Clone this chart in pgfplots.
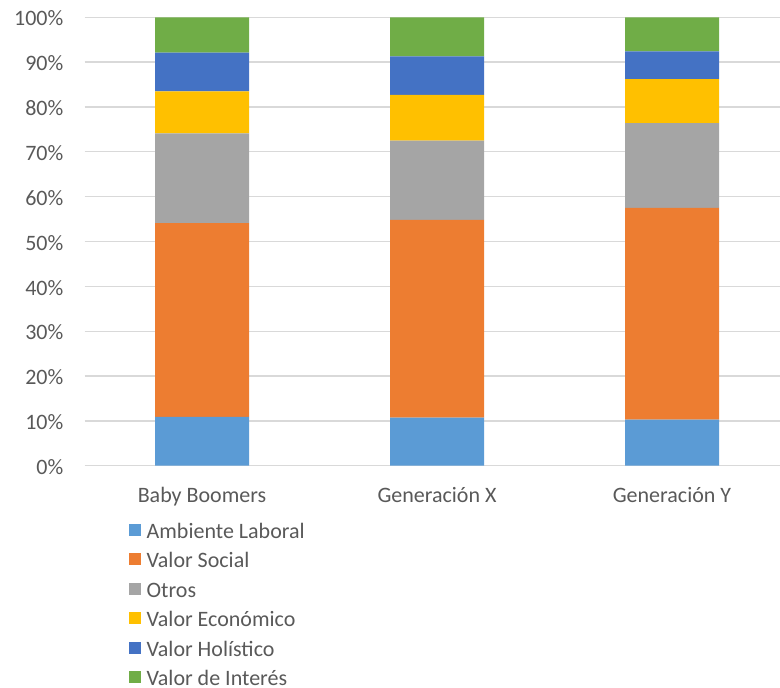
\documentclass[border=0pt]{standalone}
\usepackage{fontspec}
\setmainfont{Carlito}
\usepackage{pgfplots}
\pgfplotsset{compat=1.18}

\definecolor{cAmb}{HTML}{5B9BD5}
\definecolor{cSoc}{HTML}{ED7D31}
\definecolor{cOtr}{HTML}{A5A5A5}
\definecolor{cEco}{HTML}{FFC000}
\definecolor{cHol}{HTML}{4472C4}
\definecolor{cInt}{HTML}{70AD47}
\definecolor{txt}{HTML}{595959}
\definecolor{grd}{HTML}{D9D9D9}

\pgfplotsset{
  sqlegend/.style={legend image code/.code={\fill[##1] (0pt,1.25pt) rectangle (11.7pt,12.95pt);}}
}

\begin{document}
\begin{tikzpicture}
\path[use as bounding box] (0,0) rectangle (780pt,688pt);
\begin{axis}[
  at={(84.5pt,222.3pt)}, anchor=south west,
  scale only axis, width=705pt, height=448.4pt,
  ybar stacked, bar width=0.4,
  xmin=-0.5, xmax=2.5, ymin=0, ymax=100,
  xtick={0,1,2},
  xticklabels={Baby Boomers, Generación X, Generación Y},
  ytick={0,10,...,100},
  yticklabels={0\%,10\%,20\%,30\%,40\%,50\%,60\%,70\%,80\%,90\%,100\%},
  major tick length=0pt,
  axis line style={draw=none},
  ymajorgrids, grid style={grd, line width=1.3pt},
  tick label style={font=\fontsize{22}{26}\selectfont, text=txt, inner sep=0pt},
  xticklabel style={anchor=base, yshift=-37pt},
  yticklabel style={anchor=base east, xshift=-21pt, yshift=-8.7pt},
  legend style={at={(axis description cs:0.0638,-0.1258)}, anchor=north west,
    draw=none, fill=none, inner sep=0pt, outer sep=0pt, row sep=0pt,
    font=\fontsize{22}{26}\selectfont, text=txt,
    nodes={inner sep=0pt, text height=16pt, text depth=13.5pt},
    /tikz/every odd column/.append style={column sep=5.5pt},
    cells={anchor=west}},
]
\addplot[fill=cAmb, draw=none, sqlegend] coordinates {(0,10.9) (1,10.7) (2,10.3)};
\addplot[fill=cSoc, draw=none, sqlegend] coordinates {(0,43.2) (1,44.1) (2,47.2)};
\addplot[fill=cOtr, draw=none, sqlegend] coordinates {(0,20.0) (1,17.7) (2,18.9)};
\addplot[fill=cEco, draw=none, sqlegend] coordinates {(0,9.4) (1,10.2) (2,9.8)};
\addplot[fill=cHol, draw=none, sqlegend] coordinates {(0,8.6) (1,8.6) (2,6.2)};
\addplot[fill=cInt, draw=none, sqlegend] coordinates {(0,7.9) (1,8.7) (2,7.6)};
\legend{Ambiente Laboral, Valor Social, Otros, Valor Económico, Valor Holístico, Valor de Interés}
\end{axis}
\end{tikzpicture}
\end{document}
